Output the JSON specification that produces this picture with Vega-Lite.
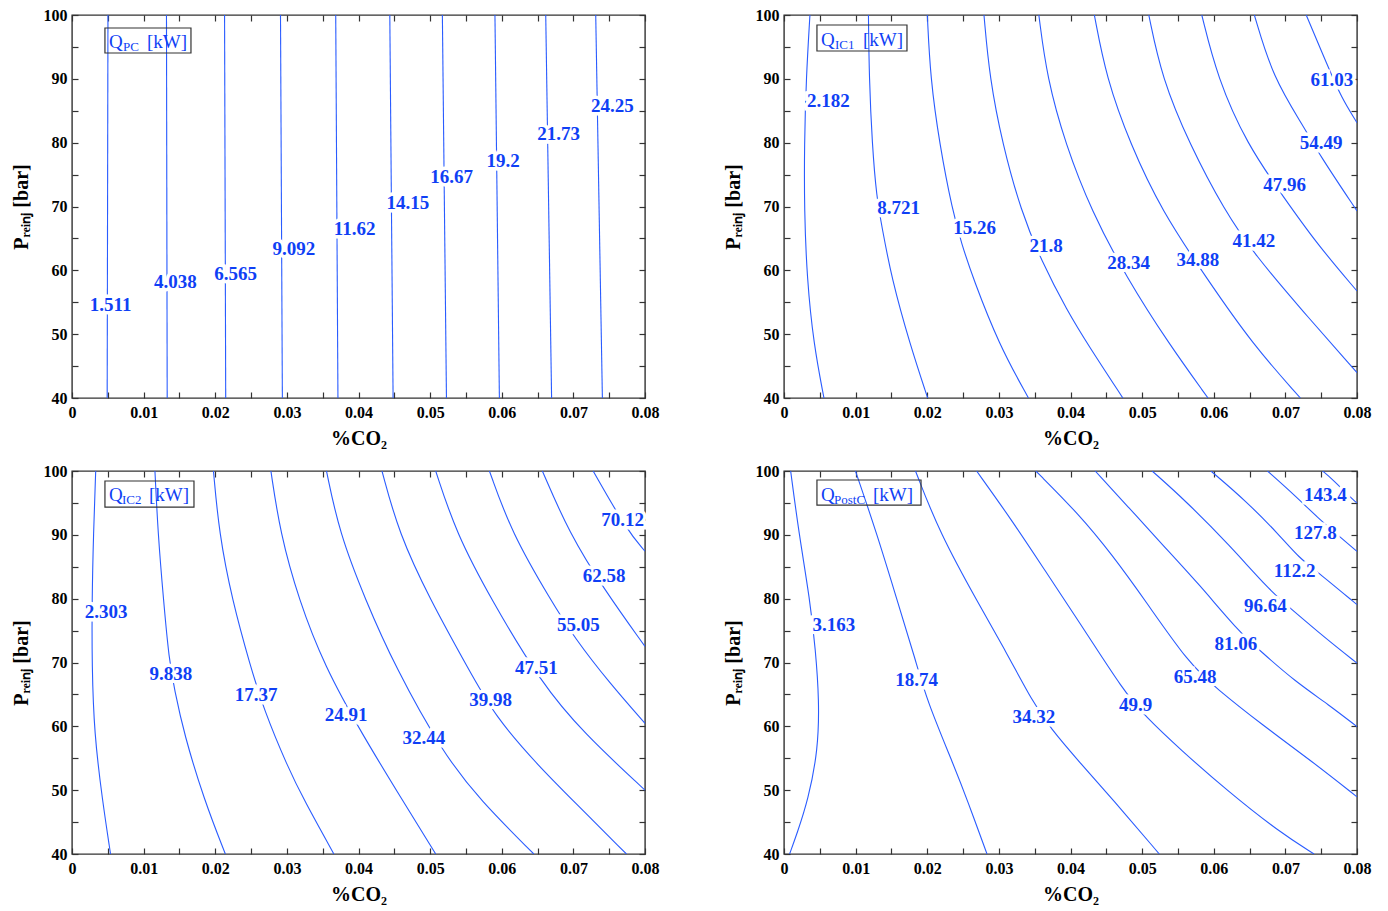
{
"$schema":"https://vega.github.io/schema/vega-lite/v6.json",
"background":"white",
"padding":{"left":10,"top":6,"right":5,"bottom":5},
"bounds":"flush",
"spacing":{"row":73,"column":139},
"columns":2,
"config":{"view":{"stroke":"#333333","strokeWidth":1.4},"font":"Liberation Serif",
 "axis":{"labelFont":"Liberation Serif","titleFont":"Liberation Serif","labelColor":"black","titleColor":"black","labelFontWeight":"bold","titleFontWeight":"bold","grid":false,"domain":false,"tickColor":"#333333","tickWidth":1.2}},
"datasets":{
"lines":[
{"p":"PC","v":"1.511","x":0.00502,"y":100},{"p":"PC","v":"1.511","x":0.00491,"y":40},
{"p":"PC","v":"4.038","x":0.01319,"y":100},{"p":"PC","v":"4.038","x":0.01329,"y":40},
{"p":"PC","v":"6.565","x":0.0213,"y":100},{"p":"PC","v":"6.565","x":0.02146,"y":40},
{"p":"PC","v":"9.092","x":0.02911,"y":100},{"p":"PC","v":"9.092","x":0.02937,"y":40},
{"p":"PC","v":"11.62","x":0.03682,"y":100},{"p":"PC","v":"11.62","x":0.03713,"y":40},
{"p":"PC","v":"14.15","x":0.04437,"y":100},{"p":"PC","v":"14.15","x":0.04483,"y":40},
{"p":"PC","v":"16.67","x":0.05171,"y":100},{"p":"PC","v":"16.67","x":0.05228,"y":40},
{"p":"PC","v":"19.2","x":0.05905,"y":100},{"p":"PC","v":"19.2","x":0.05967,"y":40},
{"p":"PC","v":"21.73","x":0.06614,"y":100},{"p":"PC","v":"21.73","x":0.06696,"y":40},
{"p":"PC","v":"24.25","x":0.07312,"y":100},{"p":"PC","v":"24.25","x":0.07405,"y":40},

{"p":"IC1","v":"2.182","x":0.00362,"y":100},{"p":"IC1","v":"2.182","x":0.0031,"y":90.18},{"p":"IC1","v":"2.182","x":0.00284,"y":79.74},{"p":"IC1","v":"2.182","x":0.00284,"y":69.3},{"p":"IC1","v":"2.182","x":0.0032,"y":58.85},{"p":"IC1","v":"2.182","x":0.00414,"y":48.41},{"p":"IC1","v":"2.182","x":0.00558,"y":40},
{"p":"IC1","v":"8.721","x":0.01179,"y":100},{"p":"IC1","v":"8.721","x":0.01189,"y":90.18},{"p":"IC1","v":"8.721","x":0.01231,"y":79.74},{"p":"IC1","v":"8.721","x":0.01293,"y":71.38},{"p":"IC1","v":"8.721","x":0.0137,"y":66.68},{"p":"IC1","v":"8.721","x":0.015,"y":58.85},{"p":"IC1","v":"8.721","x":0.01758,"y":48.41},{"p":"IC1","v":"8.721","x":0.02006,"y":40},
{"p":"IC1","v":"15.26","x":0.02001,"y":100},{"p":"IC1","v":"15.26","x":0.02043,"y":90.18},{"p":"IC1","v":"15.26","x":0.02172,"y":79.74},{"p":"IC1","v":"15.26","x":0.02353,"y":69.3},{"p":"IC1","v":"15.26","x":0.02482,"y":64.07},{"p":"IC1","v":"15.26","x":0.02637,"y":58.85},{"p":"IC1","v":"15.26","x":0.02999,"y":48.41},{"p":"IC1","v":"15.26","x":0.03413,"y":40},
{"p":"IC1","v":"21.8","x":0.02792,"y":100},{"p":"IC1","v":"21.8","x":0.0287,"y":90.18},{"p":"IC1","v":"21.8","x":0.03051,"y":79.74},{"p":"IC1","v":"21.8","x":0.03309,"y":69.3},{"p":"IC1","v":"21.8","x":0.03594,"y":61.46},{"p":"IC1","v":"21.8","x":0.03956,"y":53.63},{"p":"IC1","v":"21.8","x":0.0424,"y":48.41},{"p":"IC1","v":"21.8","x":0.04731,"y":40},
{"p":"IC1","v":"28.34","x":0.03558,"y":100},{"p":"IC1","v":"28.34","x":0.03671,"y":90.18},{"p":"IC1","v":"28.34","x":0.0393,"y":79.74},{"p":"IC1","v":"28.34","x":0.04292,"y":69.3},{"p":"IC1","v":"28.34","x":0.04783,"y":58.85},{"p":"IC1","v":"28.34","x":0.05378,"y":48.41},{"p":"IC1","v":"28.34","x":0.0592,"y":40},
{"p":"IC1","v":"34.88","x":0.04333,"y":100},{"p":"IC1","v":"34.88","x":0.04499,"y":90.18},{"p":"IC1","v":"34.88","x":0.04835,"y":79.74},{"p":"IC1","v":"34.88","x":0.05274,"y":69.3},{"p":"IC1","v":"34.88","x":0.05895,"y":58.85},{"p":"IC1","v":"34.88","x":0.06541,"y":48.41},{"p":"IC1","v":"34.88","x":0.0721,"y":40},
{"p":"IC1","v":"41.42","x":0.05093,"y":100},{"p":"IC1","v":"41.42","x":0.05274,"y":90.18},{"p":"IC1","v":"41.42","x":0.05662,"y":79.74},{"p":"IC1","v":"41.42","x":0.06153,"y":69.3},{"p":"IC1","v":"41.42","x":0.06567,"y":62.51},{"p":"IC1","v":"41.42","x":0.0724,"y":53.63},{"p":"IC1","v":"41.42","x":0.08,"y":43.97},
{"p":"IC1","v":"47.96","x":0.05833,"y":100},{"p":"IC1","v":"47.96","x":0.0605,"y":90.18},{"p":"IC1","v":"47.96","x":0.06464,"y":79.74},{"p":"IC1","v":"47.96","x":0.06981,"y":71.38},{"p":"IC1","v":"47.96","x":0.07446,"y":64.07},{"p":"IC1","v":"47.96","x":0.08,"y":56.76},
{"p":"IC1","v":"54.49","x":0.06567,"y":100},{"p":"IC1","v":"54.49","x":0.06826,"y":90.18},{"p":"IC1","v":"54.49","x":0.07265,"y":82.35},{"p":"IC1","v":"54.49","x":0.07472,"y":78.17},{"p":"IC1","v":"54.49","x":0.08,"y":69.3},
{"p":"IC1","v":"61.03","x":0.07291,"y":100},{"p":"IC1","v":"61.03","x":0.07591,"y":92.01},{"p":"IC1","v":"61.03","x":0.07782,"y":87.05},{"p":"IC1","v":"61.03","x":0.08,"y":83.13},

{"p":"IC2","v":"2.303","x":0.00331,"y":100},{"p":"IC2","v":"2.303","x":0.003,"y":90.31},{"p":"IC2","v":"2.303","x":0.00279,"y":79.84},{"p":"IC2","v":"2.303","x":0.00279,"y":69.37},{"p":"IC2","v":"2.303","x":0.0031,"y":58.9},{"p":"IC2","v":"2.303","x":0.00424,"y":48.43},{"p":"IC2","v":"2.303","x":0.00538,"y":40},
{"p":"IC2","v":"9.838","x":0.01158,"y":100},{"p":"IC2","v":"9.838","x":0.012,"y":90.31},{"p":"IC2","v":"9.838","x":0.01277,"y":79.84},{"p":"IC2","v":"9.838","x":0.01355,"y":70.42},{"p":"IC2","v":"9.838","x":0.01432,"y":65.71},{"p":"IC2","v":"9.838","x":0.01562,"y":58.9},{"p":"IC2","v":"9.838","x":0.01846,"y":48.43},{"p":"IC2","v":"9.838","x":0.02141,"y":40},
{"p":"IC2","v":"17.37","x":0.01975,"y":100},{"p":"IC2","v":"17.37","x":0.02053,"y":90.31},{"p":"IC2","v":"17.37","x":0.02234,"y":79.84},{"p":"IC2","v":"17.37","x":0.02492,"y":69.37},{"p":"IC2","v":"17.37","x":0.0268,"y":62.57},{"p":"IC2","v":"17.37","x":0.0301,"y":53.66},{"p":"IC2","v":"17.37","x":0.0324,"y":48.43},{"p":"IC2","v":"17.37","x":0.03656,"y":40},
{"p":"IC2","v":"24.91","x":0.02777,"y":100},{"p":"IC2","v":"24.91","x":0.02906,"y":90.31},{"p":"IC2","v":"24.91","x":0.03165,"y":79.84},{"p":"IC2","v":"24.91","x":0.03527,"y":69.37},{"p":"IC2","v":"24.91","x":0.04044,"y":58.9},{"p":"IC2","v":"24.91","x":0.04613,"y":48.43},{"p":"IC2","v":"24.91","x":0.05078,"y":40},
{"p":"IC2","v":"32.44","x":0.03553,"y":100},{"p":"IC2","v":"32.44","x":0.03733,"y":90.31},{"p":"IC2","v":"32.44","x":0.04095,"y":79.84},{"p":"IC2","v":"32.44","x":0.04509,"y":69.37},{"p":"IC2","v":"32.44","x":0.05181,"y":55.76},{"p":"IC2","v":"32.44","x":0.05698,"y":48.43},{"p":"IC2","v":"32.44","x":0.06448,"y":40},
{"p":"IC2","v":"39.98","x":0.04328,"y":100},{"p":"IC2","v":"39.98","x":0.04561,"y":90.31},{"p":"IC2","v":"39.98","x":0.05,"y":79.84},{"p":"IC2","v":"39.98","x":0.05517,"y":69.37},{"p":"IC2","v":"39.98","x":0.05905,"y":61.52},{"p":"IC2","v":"39.98","x":0.06526,"y":53.66},{"p":"IC2","v":"39.98","x":0.06991,"y":48.43},{"p":"IC2","v":"39.98","x":0.07741,"y":40},
{"p":"IC2","v":"47.51","x":0.05078,"y":100},{"p":"IC2","v":"47.51","x":0.05362,"y":90.31},{"p":"IC2","v":"47.51","x":0.05854,"y":79.84},{"p":"IC2","v":"47.51","x":0.06552,"y":66.75},{"p":"IC2","v":"47.51","x":0.07146,"y":58.9},{"p":"IC2","v":"47.51","x":0.08,"y":50.0},
{"p":"IC2","v":"55.05","x":0.05828,"y":100},{"p":"IC2","v":"55.05","x":0.06138,"y":90.31},{"p":"IC2","v":"55.05","x":0.06681,"y":79.84},{"p":"IC2","v":"55.05","x":0.07017,"y":73.82},{"p":"IC2","v":"55.05","x":0.07508,"y":66.75},{"p":"IC2","v":"55.05","x":0.08,"y":60.47},
{"p":"IC2","v":"62.58","x":0.06567,"y":100},{"p":"IC2","v":"62.58","x":0.0694,"y":90.31},{"p":"IC2","v":"62.58","x":0.07431,"y":81.41},{"p":"IC2","v":"62.58","x":0.08,"y":72.51},
{"p":"IC2","v":"70.12","x":0.07276,"y":100},{"p":"IC2","v":"70.12","x":0.07741,"y":90.84},{"p":"IC2","v":"70.12","x":0.08,"y":87.43},

{"p":"PostC","v":"3.163","x":0.00093,"y":100},{"p":"PostC","v":"3.163","x":0.00207,"y":90.31},{"p":"PostC","v":"3.163","x":0.00362,"y":79.84},{"p":"PostC","v":"3.163","x":0.0044,"y":71.99},{"p":"PostC","v":"3.163","x":0.00491,"y":64.14},{"p":"PostC","v":"3.163","x":0.00476,"y":56.28},{"p":"PostC","v":"3.163","x":0.00336,"y":48.43},{"p":"PostC","v":"3.163","x":0.00181,"y":43.19},{"p":"PostC","v":"3.163","x":0.00078,"y":40},
{"p":"PostC","v":"18.74","x":0.00998,"y":100},{"p":"PostC","v":"18.74","x":0.01293,"y":90.31},{"p":"PostC","v":"18.74","x":0.01577,"y":79.84},{"p":"PostC","v":"18.74","x":0.01836,"y":70.42},{"p":"PostC","v":"18.74","x":0.01991,"y":64.14},{"p":"PostC","v":"18.74","x":0.02379,"y":53.66},{"p":"PostC","v":"18.74","x":0.0256,"y":48.43},{"p":"PostC","v":"18.74","x":0.02834,"y":40},
{"p":"PostC","v":"34.32","x":0.01836,"y":100},{"p":"PostC","v":"34.32","x":0.02172,"y":90.31},{"p":"PostC","v":"34.32","x":0.02723,"y":79.06},{"p":"PostC","v":"34.32","x":0.031,"y":71.7},{"p":"PostC","v":"34.32","x":0.0347,"y":63.87},{"p":"PostC","v":"34.32","x":0.0372,"y":59.69},{"p":"PostC","v":"34.32","x":0.0412,"y":54.45},{"p":"PostC","v":"34.32","x":0.0458,"y":48.69},{"p":"PostC","v":"34.32","x":0.0524,"y":40},
{"p":"PostC","v":"49.9","x":0.02689,"y":100},{"p":"PostC","v":"49.9","x":0.0319,"y":92.15},{"p":"PostC","v":"49.9","x":0.0365,"y":84.3},{"p":"PostC","v":"49.9","x":0.0412,"y":76.4},{"p":"PostC","v":"49.9","x":0.0475,"y":65.4},{"p":"PostC","v":"49.9","x":0.0505,"y":61.5},{"p":"PostC","v":"49.9","x":0.0552,"y":56.5},{"p":"PostC","v":"49.9","x":0.0621,"y":49.7},{"p":"PostC","v":"49.9","x":0.0691,"y":43.5},{"p":"PostC","v":"49.9","x":0.074,"y":40},
{"p":"PostC","v":"65.48","x":0.03516,"y":100},{"p":"PostC","v":"65.48","x":0.0412,"y":93.2},{"p":"PostC","v":"65.48","x":0.0458,"y":86.9},{"p":"PostC","v":"65.48","x":0.0505,"y":79.6},{"p":"PostC","v":"65.48","x":0.0565,"y":69.9},{"p":"PostC","v":"65.48","x":0.0603,"y":66.0},{"p":"PostC","v":"65.48","x":0.0668,"y":60.2},{"p":"PostC","v":"65.48","x":0.0738,"y":54.45},{"p":"PostC","v":"65.48","x":0.08,"y":48.95},
{"p":"PostC","v":"81.06","x":0.04344,"y":100},{"p":"PostC","v":"81.06","x":0.0482,"y":94.2},{"p":"PostC","v":"81.06","x":0.0528,"y":88.5},{"p":"PostC","v":"81.06","x":0.058,"y":82.2},{"p":"PostC","v":"81.06","x":0.0633,"y":75.1},{"p":"PostC","v":"81.06","x":0.0666,"y":71.7},{"p":"PostC","v":"81.06","x":0.0714,"y":67.0},{"p":"PostC","v":"81.06","x":0.0761,"y":63.35},{"p":"PostC","v":"81.06","x":0.08,"y":59.95},
{"p":"PostC","v":"96.64","x":0.0514,"y":100},{"p":"PostC","v":"96.64","x":0.0561,"y":95.3},{"p":"PostC","v":"96.64","x":0.0621,"y":88.5},{"p":"PostC","v":"96.64","x":0.0679,"y":81.2},{"p":"PostC","v":"96.64","x":0.0707,"y":78.5},{"p":"PostC","v":"96.64","x":0.0756,"y":73.8},{"p":"PostC","v":"96.64","x":0.08,"y":69.9},
{"p":"PostC","v":"112.2","x":0.0596,"y":100},{"p":"PostC","v":"112.2","x":0.0645,"y":95.3},{"p":"PostC","v":"112.2","x":0.0691,"y":90.05},{"p":"PostC","v":"112.2","x":0.0719,"y":86.4},{"p":"PostC","v":"112.2","x":0.0747,"y":84.0},{"p":"PostC","v":"112.2","x":0.08,"y":79.06},
{"p":"PostC","v":"127.8","x":0.0675,"y":100},{"p":"PostC","v":"127.8","x":0.0714,"y":96.1},{"p":"PostC","v":"127.8","x":0.0745,"y":92.7},{"p":"PostC","v":"127.8","x":0.0775,"y":89.8},{"p":"PostC","v":"127.8","x":0.08,"y":87.4},
{"p":"PostC","v":"143.4","x":0.0752,"y":100},{"p":"PostC","v":"143.4","x":0.0766,"y":98.7},{"p":"PostC","v":"143.4","x":0.0796,"y":95.3},{"p":"PostC","v":"143.4","x":0.08,"y":95.0}
],
"labels":[
{"p":"PC","t":"1.511","x":0.00538,"y":54.6},{"p":"PC","t":"4.038","x":0.01443,"y":58.1},{"p":"PC","t":"6.565","x":0.02286,"y":59.4},{"p":"PC","t":"9.092","x":0.03097,"y":63.4},{"p":"PC","t":"11.62","x":0.03946,"y":66.5},{"p":"PC","t":"14.15","x":0.0469,"y":70.5},{"p":"PC","t":"16.67","x":0.053,"y":74.6},{"p":"PC","t":"19.2","x":0.06019,"y":77.2},{"p":"PC","t":"21.73","x":0.06795,"y":81.3},{"p":"PC","t":"24.25","x":0.07544,"y":85.7},
{"p":"IC1","t":"2.182","x":0.0062,"y":86.5},{"p":"IC1","t":"8.721","x":0.016,"y":69.7},{"p":"IC1","t":"15.26","x":0.0266,"y":66.7},{"p":"IC1","t":"21.8","x":0.0366,"y":63.8},{"p":"IC1","t":"28.34","x":0.0481,"y":61.2},{"p":"IC1","t":"34.88","x":0.0578,"y":61.6},{"p":"IC1","t":"41.42","x":0.0656,"y":64.6},{"p":"IC1","t":"47.96","x":0.0699,"y":73.4},{"p":"IC1","t":"54.49","x":0.075,"y":79.9},{"p":"IC1","t":"61.03","x":0.0765,"y":89.8},
{"p":"IC2","t":"2.303","x":0.00476,"y":77.9},{"p":"IC2","t":"9.838","x":0.01381,"y":68.2},{"p":"IC2","t":"17.37","x":0.0257,"y":64.9},{"p":"IC2","t":"24.91","x":0.03827,"y":61.8},{"p":"IC2","t":"32.44","x":0.04912,"y":58.1},{"p":"IC2","t":"39.98","x":0.05843,"y":64.2},{"p":"IC2","t":"47.51","x":0.06484,"y":69.1},{"p":"IC2","t":"55.05","x":0.07069,"y":75.9},{"p":"IC2","t":"62.58","x":0.07431,"y":83.5},{"p":"IC2","t":"70.12","x":0.07689,"y":92.4},
{"p":"PostC","t":"3.163","x":0.00698,"y":75.8},{"p":"PostC","t":"18.74","x":0.01851,"y":67.3},{"p":"PostC","t":"34.32","x":0.0349,"y":61.5},{"p":"PostC","t":"49.9","x":0.0491,"y":63.35},{"p":"PostC","t":"65.48","x":0.0574,"y":67.8},{"p":"PostC","t":"81.06","x":0.0631,"y":72.9},{"p":"PostC","t":"96.64","x":0.0672,"y":78.8},{"p":"PostC","t":"112.2","x":0.0713,"y":84.4},{"p":"PostC","t":"127.8","x":0.0742,"y":90.3},{"p":"PostC","t":"143.4","x":0.0756,"y":96.2}
]
},
"concat":[
{"width":573,"height":383,
 "layer":[
  {"data":{"name":"lines"},"transform":[{"filter":"datum.p=='PC'"}],
   "mark":{"type":"line","color":"#2a5cff","strokeWidth":1.1,"interpolate":"basis","clip":true},
   "encoding":{"x":{"field":"x","type":"quantitative","scale":{"domain":[0,0.08],"nice":false,"zero":false},"axis":{"orient":"bottom","values":[0,0.01,0.02,0.03,0.04,0.05,0.06,0.07,0.08],"format":"~g","ticks":false,"labelFlush":false,"labelPadding":6,"labelFontSize":16,"title":"%CO₂","titleFontSize":20,"titlePadding":8}},
    "y":{"field":"y","type":"quantitative","scale":{"domain":[40,100],"nice":false,"zero":false},"axis":{"orient":"left","values":[40,50,60,70,80,90,100],"ticks":false,"labelFlush":false,"labelPadding":5,"labelFontSize":16,"title":"Pᵣₑᵢₙⱼ  [bar]","titleFontSize":20,"titlePadding":12}},
    "detail":{"field":"v"},"order":{"field":"y","sort":"descending"}}},
  {"data":{"values":[{}]},"mark":{"type":"rect","fill":"white","fillOpacity":0,"stroke":"#333333","strokeWidth":1.2},
   "encoding":{"x":{"datum":0.0046,"type":"quantitative","scale":{"domain":[0,0.08],"nice":false,"zero":false},"axis":null},"x2":{"datum":0.01661},"y":{"datum":97.96,"type":"quantitative","scale":{"domain":[40,100],"nice":false,"zero":false},"axis":null},"y2":{"datum":94.05}}},
  {"data":{"name":"labels"},"transform":[{"filter":"datum.p=='PC'"}],
   "mark":{"type":"text","font":"Liberation Serif","fontSize":19,"fontWeight":"bold","fill":"white","stroke":"white","strokeWidth":7},
   "encoding":{"x":{"field":"x","type":"quantitative","scale":{"domain":[0,0.08],"nice":false,"zero":false},"axis":{"orient":"bottom","values":[0,0.005,0.01,0.015,0.02,0.025,0.03,0.035,0.04,0.045,0.05,0.055,0.06,0.065,0.07,0.075,0.08],"labels":false,"title":null,"tickSize":-6}},
    "y":{"field":"y","type":"quantitative","scale":{"domain":[40,100],"nice":false,"zero":false},"axis":{"orient":"left","values":[40,45,50,55,60,65,70,75,80,85,90,95,100],"labels":false,"title":null,"tickSize":-6}},
    "text":{"field":"t"}}},
  {"data":{"name":"labels"},"transform":[{"filter":"datum.p=='PC'"}],
   "mark":{"type":"text","font":"Liberation Serif","fontSize":19,"fontWeight":"bold","fill":"#0f3ff5"},
   "encoding":{"x":{"field":"x","type":"quantitative","scale":{"domain":[0,0.08],"nice":false,"zero":false},"axis":{"orient":"top","values":[0,0.005,0.01,0.015,0.02,0.025,0.03,0.035,0.04,0.045,0.05,0.055,0.06,0.065,0.07,0.075,0.08],"labels":false,"title":null,"tickSize":-6}},
    "y":{"field":"y","type":"quantitative","scale":{"domain":[40,100],"nice":false,"zero":false},"axis":{"orient":"right","values":[40,45,50,55,60,65,70,75,80,85,90,95,100],"labels":false,"title":null,"tickSize":-6}},
    "text":{"field":"t"}}},
  {"data":{"values":[{}]},"mark":{"type":"text","text":"Q","align":"left","baseline":"alphabetic","font":"Liberation Serif","fontSize":19,"fill":"#0f3ff5"},
   "encoding":{"x":{"datum":0.00517,"type":"quantitative","scale":{"domain":[0,0.08],"nice":false,"zero":false},"axis":null},"y":{"datum":94.9,"type":"quantitative","scale":{"domain":[40,100],"nice":false,"zero":false},"axis":null}}},
  {"data":{"values":[{}]},"mark":{"type":"text","text":"PC","align":"left","baseline":"alphabetic","font":"Liberation Serif","fontSize":13,"fill":"#0f3ff5","dx":14,"dy":3},
   "encoding":{"x":{"datum":0.00517,"type":"quantitative","scale":{"domain":[0,0.08],"nice":false,"zero":false},"axis":null},"y":{"datum":94.9,"type":"quantitative","scale":{"domain":[40,100],"nice":false,"zero":false},"axis":null}}},
  {"data":{"values":[{}]},"mark":{"type":"text","text":"[kW]","align":"left","baseline":"alphabetic","font":"Liberation Serif","fontSize":19,"fill":"#0f3ff5","dx":38},
   "encoding":{"x":{"datum":0.00517,"type":"quantitative","scale":{"domain":[0,0.08],"nice":false,"zero":false},"axis":null},"y":{"datum":94.9,"type":"quantitative","scale":{"domain":[40,100],"nice":false,"zero":false},"axis":null}}}
 ],
 "resolve":{"axis":{"x":"independent","y":"independent"}}},
{"width":573,"height":383,
 "layer":[
  {"data":{"name":"lines"},"transform":[{"filter":"datum.p=='IC1'"}],
   "mark":{"type":"line","color":"#2a5cff","strokeWidth":1.1,"interpolate":"basis","clip":true},
   "encoding":{"x":{"field":"x","type":"quantitative","scale":{"domain":[0,0.08],"nice":false,"zero":false},"axis":{"orient":"bottom","values":[0,0.01,0.02,0.03,0.04,0.05,0.06,0.07,0.08],"format":"~g","ticks":false,"labelFlush":false,"labelPadding":6,"labelFontSize":16,"title":"%CO₂","titleFontSize":20,"titlePadding":8}},
    "y":{"field":"y","type":"quantitative","scale":{"domain":[40,100],"nice":false,"zero":false},"axis":{"orient":"left","values":[40,50,60,70,80,90,100],"ticks":false,"labelFlush":false,"labelPadding":5,"labelFontSize":16,"title":"Pᵣₑᵢₙⱼ  [bar]","titleFontSize":20,"titlePadding":12}},
    "detail":{"field":"v"},"order":{"field":"y","sort":"descending"}}},
  {"data":{"values":[{}]},"mark":{"type":"rect","fill":"white","fillOpacity":0,"stroke":"#333333","strokeWidth":1.2},
   "encoding":{"x":{"datum":0.0046,"type":"quantitative","scale":{"domain":[0,0.08],"nice":false,"zero":false},"axis":null},"x2":{"datum":0.01717},"y":{"datum":98.43,"type":"quantitative","scale":{"domain":[40,100],"nice":false,"zero":false},"axis":null},"y2":{"datum":94.36}}},
  {"data":{"name":"labels"},"transform":[{"filter":"datum.p=='IC1'"}],
   "mark":{"type":"text","font":"Liberation Serif","fontSize":19,"fontWeight":"bold","fill":"white","stroke":"white","strokeWidth":7},
   "encoding":{"x":{"field":"x","type":"quantitative","scale":{"domain":[0,0.08],"nice":false,"zero":false},"axis":{"orient":"bottom","values":[0,0.005,0.01,0.015,0.02,0.025,0.03,0.035,0.04,0.045,0.05,0.055,0.06,0.065,0.07,0.075,0.08],"labels":false,"title":null,"tickSize":-6}},
    "y":{"field":"y","type":"quantitative","scale":{"domain":[40,100],"nice":false,"zero":false},"axis":{"orient":"left","values":[40,45,50,55,60,65,70,75,80,85,90,95,100],"labels":false,"title":null,"tickSize":-6}},
    "text":{"field":"t"}}},
  {"data":{"name":"labels"},"transform":[{"filter":"datum.p=='IC1'"}],
   "mark":{"type":"text","font":"Liberation Serif","fontSize":19,"fontWeight":"bold","fill":"#0f3ff5"},
   "encoding":{"x":{"field":"x","type":"quantitative","scale":{"domain":[0,0.08],"nice":false,"zero":false},"axis":{"orient":"top","values":[0,0.005,0.01,0.015,0.02,0.025,0.03,0.035,0.04,0.045,0.05,0.055,0.06,0.065,0.07,0.075,0.08],"labels":false,"title":null,"tickSize":-6}},
    "y":{"field":"y","type":"quantitative","scale":{"domain":[40,100],"nice":false,"zero":false},"axis":{"orient":"right","values":[40,45,50,55,60,65,70,75,80,85,90,95,100],"labels":false,"title":null,"tickSize":-6}},
    "text":{"field":"t"}}},
  {"data":{"values":[{}]},"mark":{"type":"text","text":"Q","align":"left","baseline":"alphabetic","font":"Liberation Serif","fontSize":19,"fill":"#0f3ff5"},
   "encoding":{"x":{"datum":0.00517,"type":"quantitative","scale":{"domain":[0,0.08],"nice":false,"zero":false},"axis":null},"y":{"datum":95.14,"type":"quantitative","scale":{"domain":[40,100],"nice":false,"zero":false},"axis":null}}},
  {"data":{"values":[{}]},"mark":{"type":"text","text":"IC1","align":"left","baseline":"alphabetic","font":"Liberation Serif","fontSize":13,"fill":"#0f3ff5","dx":14,"dy":3},
   "encoding":{"x":{"datum":0.00517,"type":"quantitative","scale":{"domain":[0,0.08],"nice":false,"zero":false},"axis":null},"y":{"datum":95.14,"type":"quantitative","scale":{"domain":[40,100],"nice":false,"zero":false},"axis":null}}},
  {"data":{"values":[{}]},"mark":{"type":"text","text":"[kW]","align":"left","baseline":"alphabetic","font":"Liberation Serif","fontSize":19,"fill":"#0f3ff5","dx":42},
   "encoding":{"x":{"datum":0.00517,"type":"quantitative","scale":{"domain":[0,0.08],"nice":false,"zero":false},"axis":null},"y":{"datum":95.14,"type":"quantitative","scale":{"domain":[40,100],"nice":false,"zero":false},"axis":null}}}
 ],
 "resolve":{"axis":{"x":"independent","y":"independent"}}},
{"width":573,"height":383,
 "layer":[
  {"data":{"name":"lines"},"transform":[{"filter":"datum.p=='IC2'"}],
   "mark":{"type":"line","color":"#2a5cff","strokeWidth":1.1,"interpolate":"basis","clip":true},
   "encoding":{"x":{"field":"x","type":"quantitative","scale":{"domain":[0,0.08],"nice":false,"zero":false},"axis":{"orient":"bottom","values":[0,0.01,0.02,0.03,0.04,0.05,0.06,0.07,0.08],"format":"~g","ticks":false,"labelFlush":false,"labelPadding":6,"labelFontSize":16,"title":"%CO₂","titleFontSize":20,"titlePadding":8}},
    "y":{"field":"y","type":"quantitative","scale":{"domain":[40,100],"nice":false,"zero":false},"axis":{"orient":"left","values":[40,50,60,70,80,90,100],"ticks":false,"labelFlush":false,"labelPadding":5,"labelFontSize":16,"title":"Pᵣₑᵢₙⱼ  [bar]","titleFontSize":20,"titlePadding":12}},
    "detail":{"field":"v"},"order":{"field":"y","sort":"descending"}}},
  {"data":{"values":[{}]},"mark":{"type":"rect","fill":"white","fillOpacity":0,"stroke":"#333333","strokeWidth":1.2},
   "encoding":{"x":{"datum":0.0046,"type":"quantitative","scale":{"domain":[0,0.08],"nice":false,"zero":false},"axis":null},"x2":{"datum":0.01703},"y":{"datum":98.43,"type":"quantitative","scale":{"domain":[40,100],"nice":false,"zero":false},"axis":null},"y2":{"datum":94.35}}},
  {"data":{"name":"labels"},"transform":[{"filter":"datum.p=='IC2'"}],
   "mark":{"type":"text","font":"Liberation Serif","fontSize":19,"fontWeight":"bold","fill":"white","stroke":"white","strokeWidth":7},
   "encoding":{"x":{"field":"x","type":"quantitative","scale":{"domain":[0,0.08],"nice":false,"zero":false},"axis":{"orient":"bottom","values":[0,0.005,0.01,0.015,0.02,0.025,0.03,0.035,0.04,0.045,0.05,0.055,0.06,0.065,0.07,0.075,0.08],"labels":false,"title":null,"tickSize":-6}},
    "y":{"field":"y","type":"quantitative","scale":{"domain":[40,100],"nice":false,"zero":false},"axis":{"orient":"left","values":[40,45,50,55,60,65,70,75,80,85,90,95,100],"labels":false,"title":null,"tickSize":-6}},
    "text":{"field":"t"}}},
  {"data":{"name":"labels"},"transform":[{"filter":"datum.p=='IC2'"}],
   "mark":{"type":"text","font":"Liberation Serif","fontSize":19,"fontWeight":"bold","fill":"#0f3ff5"},
   "encoding":{"x":{"field":"x","type":"quantitative","scale":{"domain":[0,0.08],"nice":false,"zero":false},"axis":{"orient":"top","values":[0,0.005,0.01,0.015,0.02,0.025,0.03,0.035,0.04,0.045,0.05,0.055,0.06,0.065,0.07,0.075,0.08],"labels":false,"title":null,"tickSize":-6}},
    "y":{"field":"y","type":"quantitative","scale":{"domain":[40,100],"nice":false,"zero":false},"axis":{"orient":"right","values":[40,45,50,55,60,65,70,75,80,85,90,95,100],"labels":false,"title":null,"tickSize":-6}},
    "text":{"field":"t"}}},
  {"data":{"values":[{}]},"mark":{"type":"text","text":"Q","align":"left","baseline":"alphabetic","font":"Liberation Serif","fontSize":19,"fill":"#0f3ff5"},
   "encoding":{"x":{"datum":0.00517,"type":"quantitative","scale":{"domain":[0,0.08],"nice":false,"zero":false},"axis":null},"y":{"datum":95.3,"type":"quantitative","scale":{"domain":[40,100],"nice":false,"zero":false},"axis":null}}},
  {"data":{"values":[{}]},"mark":{"type":"text","text":"IC2","align":"left","baseline":"alphabetic","font":"Liberation Serif","fontSize":13,"fill":"#0f3ff5","dx":13,"dy":3},
   "encoding":{"x":{"datum":0.00517,"type":"quantitative","scale":{"domain":[0,0.08],"nice":false,"zero":false},"axis":null},"y":{"datum":95.3,"type":"quantitative","scale":{"domain":[40,100],"nice":false,"zero":false},"axis":null}}},
  {"data":{"values":[{}]},"mark":{"type":"text","text":"[kW]","align":"left","baseline":"alphabetic","font":"Liberation Serif","fontSize":19,"fill":"#0f3ff5","dx":40},
   "encoding":{"x":{"datum":0.00517,"type":"quantitative","scale":{"domain":[0,0.08],"nice":false,"zero":false},"axis":null},"y":{"datum":95.3,"type":"quantitative","scale":{"domain":[40,100],"nice":false,"zero":false},"axis":null}}}
 ],
 "resolve":{"axis":{"x":"independent","y":"independent"}}},
{"width":573,"height":383,
 "layer":[
  {"data":{"name":"lines"},"transform":[{"filter":"datum.p=='PostC'"}],
   "mark":{"type":"line","color":"#2a5cff","strokeWidth":1.1,"interpolate":"basis","clip":true},
   "encoding":{"x":{"field":"x","type":"quantitative","scale":{"domain":[0,0.08],"nice":false,"zero":false},"axis":{"orient":"bottom","values":[0,0.01,0.02,0.03,0.04,0.05,0.06,0.07,0.08],"format":"~g","ticks":false,"labelFlush":false,"labelPadding":6,"labelFontSize":16,"title":"%CO₂","titleFontSize":20,"titlePadding":8}},
    "y":{"field":"y","type":"quantitative","scale":{"domain":[40,100],"nice":false,"zero":false},"axis":{"orient":"left","values":[40,50,60,70,80,90,100],"ticks":false,"labelFlush":false,"labelPadding":5,"labelFontSize":16,"title":"Pᵣₑᵢₙⱼ  [bar]","titleFontSize":20,"titlePadding":12}},
    "detail":{"field":"v"},"order":{"field":"y","sort":"descending"}}},
  {"data":{"values":[{}]},"mark":{"type":"rect","fill":"white","fillOpacity":0,"stroke":"#333333","strokeWidth":1.2},
   "encoding":{"x":{"datum":0.0046,"type":"quantitative","scale":{"domain":[0,0.08],"nice":false,"zero":false},"axis":null},"x2":{"datum":0.01913},"y":{"datum":98.59,"type":"quantitative","scale":{"domain":[40,100],"nice":false,"zero":false},"axis":null},"y2":{"datum":94.66}}},
  {"data":{"name":"labels"},"transform":[{"filter":"datum.p=='PostC'"}],
   "mark":{"type":"text","font":"Liberation Serif","fontSize":19,"fontWeight":"bold","fill":"white","stroke":"white","strokeWidth":7},
   "encoding":{"x":{"field":"x","type":"quantitative","scale":{"domain":[0,0.08],"nice":false,"zero":false},"axis":{"orient":"bottom","values":[0,0.005,0.01,0.015,0.02,0.025,0.03,0.035,0.04,0.045,0.05,0.055,0.06,0.065,0.07,0.075,0.08],"labels":false,"title":null,"tickSize":-6}},
    "y":{"field":"y","type":"quantitative","scale":{"domain":[40,100],"nice":false,"zero":false},"axis":{"orient":"left","values":[40,45,50,55,60,65,70,75,80,85,90,95,100],"labels":false,"title":null,"tickSize":-6}},
    "text":{"field":"t"}}},
  {"data":{"name":"labels"},"transform":[{"filter":"datum.p=='PostC'"}],
   "mark":{"type":"text","font":"Liberation Serif","fontSize":19,"fontWeight":"bold","fill":"#0f3ff5"},
   "encoding":{"x":{"field":"x","type":"quantitative","scale":{"domain":[0,0.08],"nice":false,"zero":false},"axis":{"orient":"top","values":[0,0.005,0.01,0.015,0.02,0.025,0.03,0.035,0.04,0.045,0.05,0.055,0.06,0.065,0.07,0.075,0.08],"labels":false,"title":null,"tickSize":-6}},
    "y":{"field":"y","type":"quantitative","scale":{"domain":[40,100],"nice":false,"zero":false},"axis":{"orient":"right","values":[40,45,50,55,60,65,70,75,80,85,90,95,100],"labels":false,"title":null,"tickSize":-6}},
    "text":{"field":"t"}}},
  {"data":{"values":[{}]},"mark":{"type":"text","text":"Q","align":"left","baseline":"alphabetic","font":"Liberation Serif","fontSize":19,"fill":"#0f3ff5"},
   "encoding":{"x":{"datum":0.00517,"type":"quantitative","scale":{"domain":[0,0.08],"nice":false,"zero":false},"axis":null},"y":{"datum":95.3,"type":"quantitative","scale":{"domain":[40,100],"nice":false,"zero":false},"axis":null}}},
  {"data":{"values":[{}]},"mark":{"type":"text","text":"PostC","align":"left","baseline":"alphabetic","font":"Liberation Serif","fontSize":13,"fill":"#0f3ff5","dx":13,"dy":3},
   "encoding":{"x":{"datum":0.00517,"type":"quantitative","scale":{"domain":[0,0.08],"nice":false,"zero":false},"axis":null},"y":{"datum":95.3,"type":"quantitative","scale":{"domain":[40,100],"nice":false,"zero":false},"axis":null}}},
  {"data":{"values":[{}]},"mark":{"type":"text","text":"[kW]","align":"left","baseline":"alphabetic","font":"Liberation Serif","fontSize":19,"fill":"#0f3ff5","dx":52},
   "encoding":{"x":{"datum":0.00517,"type":"quantitative","scale":{"domain":[0,0.08],"nice":false,"zero":false},"axis":null},"y":{"datum":95.3,"type":"quantitative","scale":{"domain":[40,100],"nice":false,"zero":false},"axis":null}}}
 ],
 "resolve":{"axis":{"x":"independent","y":"independent"}}}
]
}
